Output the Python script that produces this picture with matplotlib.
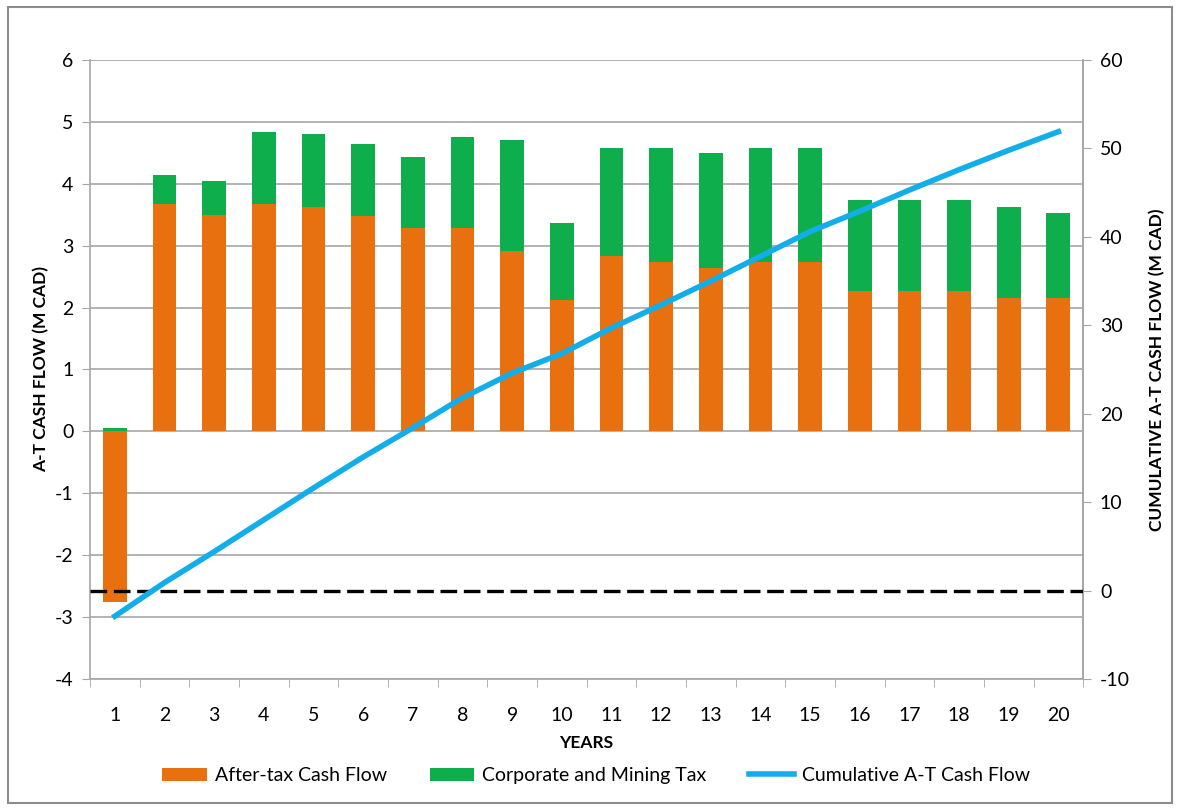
import matplotlib.pyplot as plt
from matplotlib.patches import Rectangle

plt.rcParams['font.family'] = ['Lato', 'DejaVu Sans']
plt.rcParams['axes.unicode_minus'] = False

years = list(range(1, 21))
after_tax = [-2.76, 3.68, 3.49, 3.67, 3.62, 3.48, 3.29, 3.28, 2.92, 2.13,
             2.83, 2.74, 2.64, 2.74, 2.74, 2.27, 2.27, 2.27, 2.16, 2.16]
tax = [0.05, 0.47, 0.56, 1.16, 1.18, 1.16, 1.14, 1.47, 1.78, 1.24,
       1.75, 1.84, 1.85, 1.84, 1.84, 1.47, 1.47, 1.47, 1.47, 1.37]
cumulative = [-2.9, 0.9, 4.4, 8.0, 11.6, 15.1, 18.4, 21.8, 24.6, 26.8,
              29.7, 32.3, 35.0, 37.8, 40.6, 42.9, 45.3, 47.6, 49.8, 51.9]

orange = '#E8700E'
green = '#0DAE4B'
blue = '#13AEEA'
grid = '#A6A6A6'

fig = plt.figure(figsize=(11.8, 8.08), dpi=100)
ax = fig.add_axes([0.0763, 0.1597, 0.8417, 0.766])

# green tax sits on top of the positive part of the after-tax bar
bottoms = [max(v, 0) for v in after_tax]
ax.bar(years, after_tax, width=0.48, color=orange, zorder=2, label='After-tax Cash Flow')
ax.bar(years, tax, width=0.48, bottom=bottoms, color=green, zorder=2,
       label='Corporate and Mining Tax')

ax.set_xlim(0.5, 20.5)
ax.set_ylim(-4, 6)
ax.set_yticks(range(-4, 7))
ax.yaxis.grid(True, color=grid, linewidth=1.2, zorder=0)
ax.set_axisbelow(True)
ax.set_xticks(years)
ax.set_xticks([y + 0.5 for y in range(0, 21)], minor=True)
ax.tick_params(axis='x', which='major', length=0, pad=20, labelsize=14)
ax.tick_params(axis='x', which='minor', length=6, color=grid, direction='out')
ax.tick_params(axis='y', length=6, color=grid, labelsize=14, pad=6)
ax.spines['top'].set_visible(False)
for s in ['left', 'right', 'bottom']:
    ax.spines[s].set_color(grid)
    ax.spines[s].set_linewidth(1.2)
ax.set_xlabel('YEARS', fontsize=12.5, fontweight='bold', labelpad=8)
ax.set_ylabel('A-T CASH FLOW (M CAD)', fontsize=12.5, fontweight='bold', labelpad=4)

ax2 = ax.twinx()
ax2.set_ylim(-10, 60)
ax2.set_yticks(range(-10, 61, 10))
ax2.tick_params(axis='y', length=6, color=grid, labelsize=14, pad=6)
for s in ['top', 'left', 'bottom']:
    ax2.spines[s].set_visible(False)
ax2.spines['right'].set_color(grid)
ax2.spines['right'].set_linewidth(1.2)
ax2.axhline(0, color='black', linestyle=(0, (5, 2)), linewidth=2.4, zorder=3)
ax2.plot(years, cumulative, color=blue, linewidth=4, zorder=4,
         label='Cumulative A-T Cash Flow')
ax2.set_ylabel('CUMULATIVE A-T CASH FLOW (M CAD)', fontsize=12.5, fontweight='bold',
               labelpad=14)

h1, l1 = ax.get_legend_handles_labels()
h2, l2 = ax2.get_legend_handles_labels()
fig.legend(h1 + h2, l1 + l2, loc='center', bbox_to_anchor=(0.505, 0.04), ncol=3,
           frameon=False, fontsize=14, handlelength=2.3, columnspacing=2.2,
           handletextpad=0.4)

fig.patches.append(Rectangle((0.007, 0.006), 0.986, 0.985, transform=fig.transFigure,
                             fill=False, edgecolor='#8C8C8C', linewidth=1.5))

fig.savefig('out.png', dpi=100)
